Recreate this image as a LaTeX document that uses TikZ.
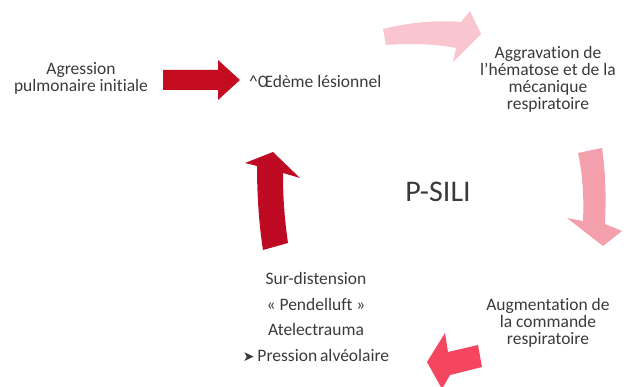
\documentclass[tikz,border=0pt]{standalone}
\usepackage{fontspec}
\setmainfont{Carlito}[Ligatures=NoCommon]
\newfontfamily\dejavu{DejaVu Sans}
\definecolor{txt}{HTML}{3A3A3A}
\definecolor{darkred}{HTML}{C40C20}
\definecolor{upred}{HTML}{BE0A23}
\definecolor{lightpink}{HTML}{F9C6CF}
\definecolor{midpink}{HTML}{F4A0AC}
\definecolor{hotpink}{HTML}{F5465F}
\begin{document}
\begin{tikzpicture}[x=1pt,y=-1pt,
  lbl/.style={text=txt,align=center,inner sep=0pt,font=\fontsize{17.5}{17}\selectfont}]
\useasboundingbox (0,0) rectangle (628,387);

% text nodes
\node[lbl] (agr) at (81,78) {Agression\\pulmonaire initiale};
\node[lbl,anchor=west] (oed) at (249,81) {\textasciicircum Œdème lésionnel};
\node[lbl] (agg) at (548,79) {Aggravation de\\l'hématose et de la\\mécanique\\respiratoire};
\node[text=txt,inner sep=0pt,font=\fontsize{30}{32}\selectfont] (psili) at (438,192) {P-SILI};
\node[lbl] (aug) at (548,323) {Augmentation de\\la commande\\respiratoire};
\node[lbl,font=\fontsize{17.5}{25.7}\selectfont] (mech) at (316,317)
  {Sur-distension\\«~Pendelluft~»\\Atelectrauma\\{\dejavu\fontsize{14}{14}\selectfont ➤}\,Pression\,alvéolaire};

% arrows
\fill[darkred] (163,70) -- (218,70) -- (218,60) -- (240,80) -- (218,100) -- (218,90) -- (163,90) -- cycle;
\fill[lightpink] (383,29) .. controls (410,22) and (440,20) .. (461,22) -- (470,11) -- (481,34)
  -- (453,62) -- (456,48) .. controls (435,44) and (410,43) .. (386,45) -- cycle;
\fill[midpink] (578,153) -- (602,148) .. controls (606,175) and (606,200) .. (605,224)
  -- (622,231) -- (603,246) -- (567,218) -- (583,221) .. controls (584,200) and (583,175) .. (578,153) -- cycle;
\fill[upred] (263,250) -- (288,243) .. controls (284,215) and (283,195) .. (283,173)
  -- (300,178) -- (273,152) -- (245,163) -- (257,166) .. controls (257,195) and (259,225) .. (263,250) -- cycle;
\fill[hotpink] (427,362) -- (445,333) -- (448,352) -- (478,345) -- (482,367) -- (450,375) -- (442,389) -- cycle;
\end{tikzpicture}
\end{document}
